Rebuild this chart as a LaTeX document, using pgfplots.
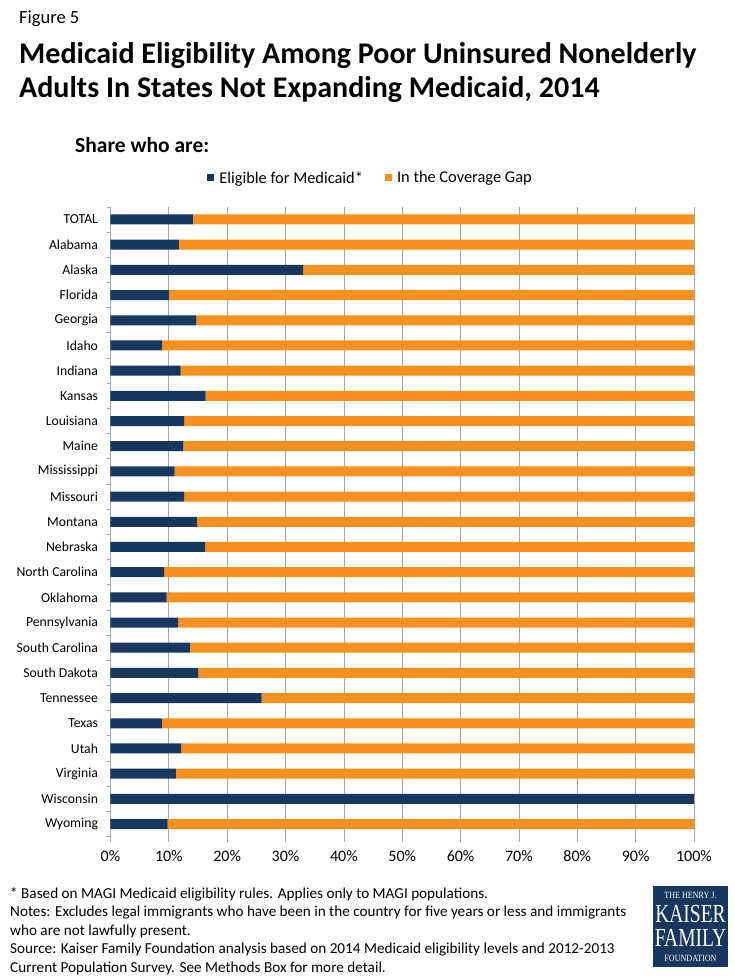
\documentclass[border=0pt]{standalone}
\usepackage{fontspec}
\setmainfont{Carlito}
\newfontfamily\logofont{Liberation Serif}
\usepackage{graphicx}
\usepackage{pgfplots}
\pgfplotsset{compat=1.18}

\definecolor{kffnavy}{HTML}{17375E}
\definecolor{kfforange}{HTML}{F7901E}
\definecolor{gridgray}{HTML}{A6A6A6}

\newcommand{\fs}[1]{\fontsize{#1}{#1}\selectfont}

\begin{document}
\begin{tikzpicture}
\useasboundingbox (0,0) rectangle (735pt,-980pt);

% headings
\node[anchor=base west, inner sep=0] at (19pt,-23.3pt) {\fs{18.5}Figure 5};
\node[anchor=base west, inner sep=0] at (19pt,-63.3pt) {\fs{30}\bfseries Medicaid Eligibility Among Poor Uninsured Nonelderly};
\node[anchor=base west, inner sep=0] at (19pt,-97.3pt) {\fs{30}\bfseries Adults In States Not Expanding Medicaid, 2014};
\node[anchor=base west, inner sep=0] at (75pt,-152.3pt) {\fs{21.5}\bfseries Share who are:};

\begin{axis}[
  at={(110.5pt,-206.9pt)}, anchor=north west,
  scale only axis, width=583.5pt, height=629.7pt,
  xbar stacked, bar width=10pt,
  xmin=0, xmax=100, ymin=-0.5, ymax=24.5,
  xtick={0,10,...,100},
  xticklabel={\pgfmathprintnumber{\tick}\%},
  /pgf/number format/assume math mode=true,
  ytick={0,...,24},
  yticklabels={Wyoming,Wisconsin,Virginia,Utah,Texas,Tennessee,South Dakota,South Carolina,Pennsylvania,Oklahoma,North Carolina,Nebraska,Montana,Missouri,Mississippi,Maine,Louisiana,Kansas,Indiana,Idaho,Georgia,Florida,Alaska,Alabama,TOTAL},
  minor ytick={-0.5,0.5,...,24.5},
  xmajorgrids, grid style={gridgray, line width=0.8pt},
  axis line style={draw=none},
  tick pos=left, tick align=outside,
  major tick length=5pt, minor tick length=4pt,
  major x tick style={gridgray, line width=0.8pt},
  major y tick style={draw=none},
  minor y tick style={gridgray, line width=0.8pt},
  xticklabel style={font=\fs{16}, yshift=-5pt},
  yticklabel style={font=\fs{13.7}, xshift=-4pt},
  legend columns=2,
  legend style={at={(0.4456,1.046)}, anchor=center, draw=none, fill=none,
    font=\fs{16.4}, /tikz/every even column/.append style={column sep=20pt}},
  legend image code/.code={\fill[#1, draw=none] (0pt,-3.5pt) rectangle (7pt,3.5pt); \path (10pt,0pt);},
]
% share eligible for Medicaid
\addplot[fill=kffnavy, draw=none] coordinates {
  (9.8,0) (100,1) (11.2,2) (12.1,3) (8.8,4) (25.9,5) (15.0,6) (13.6,7)
  (11.6,8) (9.6,9) (9.2,10) (16.2,11) (14.8,12) (12.6,13) (11.0,14) (12.5,15)
  (12.6,16) (16.3,17) (12.0,18) (8.8,19) (14.7,20) (10.0,21) (33.0,22) (11.7,23)
  (14.1,24)};
% share in the coverage gap
\addplot[fill=kfforange, draw=none] coordinates {
  (90.2,0) (0,1) (88.8,2) (87.9,3) (91.2,4) (74.1,5) (85.0,6) (86.4,7)
  (88.4,8) (90.4,9) (90.8,10) (83.8,11) (85.2,12) (87.4,13) (89.0,14) (87.5,15)
  (87.4,16) (83.7,17) (88.0,18) (91.2,19) (85.3,20) (90.0,21) (67.0,22) (88.3,23)
  (85.9,24)};
\legend{Eligible for Medicaid*, In the Coverage Gap}
\end{axis}

% notes
\begin{scope}[every node/.style={anchor=base west, inner sep=0, font=\fs{15.2}}]
\node at (10pt,-898pt) {* Based on MAGI Medicaid eligibility rules. Applies only to MAGI populations.};
\node at (10pt,-916.5pt) {Notes: Excludes legal immigrants who have been in the country for five years or less and immigrants};
\node at (10pt,-935pt) {who are not lawfully present.};
\node at (10pt,-953.5pt) {Source: Kaiser Family Foundation analysis based on 2014 Medicaid eligibility levels and 2012-2013};
\node at (10pt,-972pt) {Current Population Survey. See Methods Box for more detail.};
\end{scope}

% foundation mark
\fill[kffnavy] (653pt,-886pt) rectangle (728pt,-967pt);
\begin{scope}[every node/.style={text=white, inner sep=0}]
\node[anchor=base] at (690.5pt,-898pt) {\logofont\fs{9.5}\scalebox{0.85}[1]{THE HENRY J.}};
\node[anchor=base, align=center, font=\logofont\fontsize{26}{23.5}\selectfont]
  at (690.5pt,-946pt) {\scalebox{0.75}[1]{KAISER}\\\scalebox{0.75}[1]{FAMILY}};
\node[anchor=base] at (690.5pt,-961pt) {\logofont\fs{9.5}\scalebox{0.85}[1]{FOUNDATION}};
\end{scope}
\end{tikzpicture}
\end{document}
